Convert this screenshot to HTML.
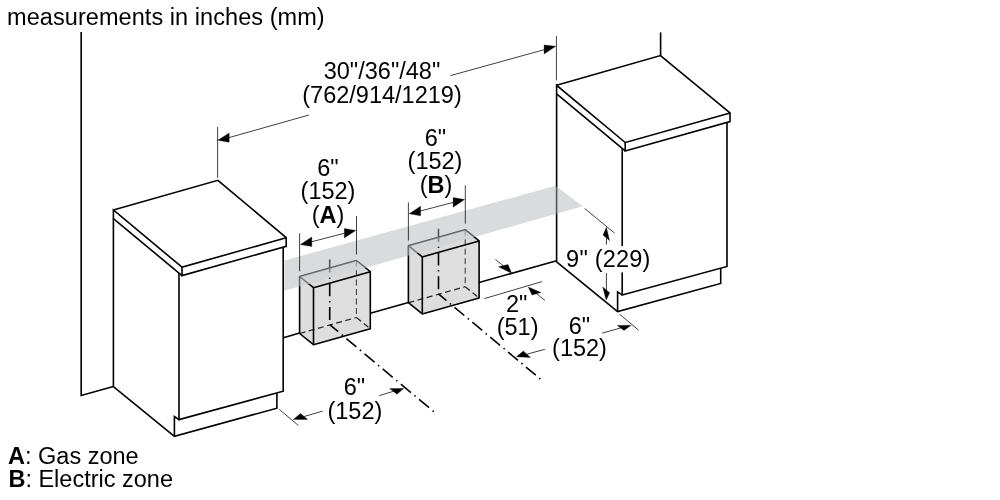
<!DOCTYPE html>
<html><head><meta charset="utf-8"><title>Measurements</title>
<style>
html,body{margin:0;padding:0;background:#fff;}
body{width:1000px;height:500px;overflow:hidden;}
svg{display:block;will-change:transform;}
text{font-family:"Liberation Sans",sans-serif;font-size:23.5px;fill:#000;}
</style></head>
<body>
<svg width="1000" height="500" viewBox="0 0 1000 500">
<rect width="1000" height="500" fill="#fff"/>
<polyline points="81.20,32.00 81.20,395.40 113.40,386.60" fill="none" stroke="#000" stroke-width="1.6" />
<line x1="660.60" y1="32.40" x2="660.60" y2="56.00" stroke="#000" stroke-width="1.6" />
<polygon points="113.40,210.00 217.90,180.30 286.20,237.70 182.00,267.20" fill="#fff" />
<polyline points="113.40,210.00 217.90,180.30 286.20,237.70 286.20,246.30 182.00,275.60 182.00,267.20 286.20,237.70" fill="none" stroke="#000" stroke-width="1.6" />
<polyline points="182.00,267.20 113.40,210.00 113.40,218.60 182.00,275.60" fill="none" stroke="#000" stroke-width="1.6" />
<polyline points="113.40,218.60 113.40,386.60 174.40,436.30 276.90,408.20 276.90,393.00" fill="none" stroke="#000" stroke-width="1.6" />
<polyline points="179.00,273.00 179.00,419.60 283.20,391.20 283.20,247.30" fill="none" stroke="#000" stroke-width="1.6" />
<polyline points="174.40,436.30 174.40,416.60 179.00,419.60" fill="none" stroke="#000" stroke-width="1.6" />
<polygon points="556.60,85.30 660.50,55.60 730.00,113.00 625.20,142.50" fill="#fff" />
<polyline points="556.60,85.30 660.50,55.60 730.00,113.00 730.00,121.60 625.20,150.90 625.20,142.50 730.00,113.00" fill="none" stroke="#000" stroke-width="1.6" />
<polyline points="625.20,142.50 556.60,85.30 556.60,93.90 625.20,150.90" fill="none" stroke="#000" stroke-width="1.6" />
<polyline points="556.60,93.90 556.60,261.90 617.60,311.60 720.70,283.50 720.70,268.30" fill="none" stroke="#000" stroke-width="1.6" />
<polyline points="622.20,148.30 622.20,294.90 727.00,266.50 727.00,122.60" fill="none" stroke="#000" stroke-width="1.6" />
<polyline points="617.60,311.60 617.60,291.90 622.20,294.90" fill="none" stroke="#000" stroke-width="1.6" />
<line x1="283.40" y1="337.67" x2="299.60" y2="333.10" stroke="#000" stroke-width="1.6" />
<line x1="370.30" y1="313.17" x2="408.40" y2="302.43" stroke="#000" stroke-width="1.6" />
<line x1="479.10" y1="282.50" x2="556.60" y2="260.65" stroke="#000" stroke-width="1.6" />
<polygon points="299.60,276.50 313.50,287.70 313.50,344.70 299.60,333.50" fill="#dddddd" />
<polygon points="313.50,287.70 370.30,271.70 370.30,328.70 313.50,344.70" fill="#dedede" />
<polygon points="299.60,276.50 356.40,260.50 370.30,271.70 313.50,287.70" fill="#dbdbdb" />
<line x1="299.60" y1="333.50" x2="356.40" y2="317.50" stroke="#222" stroke-width="1.2" stroke-dasharray="6 3.5"/>
<line x1="356.40" y1="260.50" x2="356.40" y2="317.50" stroke="#333" stroke-width="1.0" stroke-dasharray="6 3.5"/>
<line x1="356.40" y1="317.50" x2="370.30" y2="328.70" stroke="#222" stroke-width="1.2" stroke-dasharray="6 3.5"/>
<polyline points="299.60,276.50 356.40,260.50 370.30,271.70 313.50,287.70 299.60,276.50 299.60,333.50 313.50,344.70 370.30,328.70 370.30,271.70" fill="none" stroke="#000" stroke-width="1.6" stroke-linejoin="round"/>
<line x1="313.50" y1="287.70" x2="313.50" y2="344.70" stroke="#000" stroke-width="1.6" />
<line x1="329.70" y1="259.60" x2="329.70" y2="320.61" stroke="#000" stroke-width="1.6" stroke-dasharray="13 4.6 1.5 4.6"/>
<polygon points="408.40,245.70 422.30,256.90 422.30,313.90 408.40,302.70" fill="#dddddd" />
<polygon points="422.30,256.90 479.10,240.90 479.10,297.90 422.30,313.90" fill="#dedede" />
<polygon points="408.40,245.70 465.20,229.70 479.10,240.90 422.30,256.90" fill="#dbdbdb" />
<line x1="408.40" y1="302.70" x2="465.20" y2="286.70" stroke="#222" stroke-width="1.2" stroke-dasharray="6 3.5"/>
<line x1="465.20" y1="229.70" x2="465.20" y2="286.70" stroke="#333" stroke-width="1.0" stroke-dasharray="6 3.5"/>
<line x1="465.20" y1="286.70" x2="479.10" y2="297.90" stroke="#222" stroke-width="1.2" stroke-dasharray="6 3.5"/>
<polyline points="408.40,245.70 465.20,229.70 479.10,240.90 422.30,256.90 408.40,245.70 408.40,302.70 422.30,313.90 479.10,297.90 479.10,240.90" fill="none" stroke="#000" stroke-width="1.6" stroke-linejoin="round"/>
<line x1="422.30" y1="256.90" x2="422.30" y2="313.90" stroke="#000" stroke-width="1.6" />
<line x1="438.50" y1="228.80" x2="438.50" y2="289.94" stroke="#000" stroke-width="1.6" stroke-dasharray="13 4.6 1.5 4.6"/>
<polygon points="284.30,260.50 555.50,185.80 582.80,206.30 284.30,290.80" fill="rgba(178,180,184,0.48)" />
<clipPath id="bandclip"><polygon points="284.30,260.50 555.50,185.80 582.80,206.30 284.30,290.80"/></clipPath>
<polygon points="299.60,276.50 356.40,260.50 370.30,271.70 313.50,287.70" fill="rgba(255,255,255,0.24)" clip-path="url(#bandclip)"/>
<polygon points="299.60,276.50 313.50,287.70 313.50,344.70 299.60,333.50" fill="rgba(255,255,255,0.24)" clip-path="url(#bandclip)"/>
<polygon points="408.40,245.70 465.20,229.70 479.10,240.90 422.30,256.90" fill="rgba(255,255,255,0.24)" clip-path="url(#bandclip)"/>
<polygon points="408.40,245.70 422.30,256.90 422.30,313.90 408.40,302.70" fill="rgba(255,255,255,0.24)" clip-path="url(#bandclip)"/>
<line x1="329.70" y1="324.61" x2="433.71" y2="411.61" stroke="#000" stroke-width="1.6" stroke-dasharray="13.00 4.60 1.50 4.60" stroke-dashoffset="1.95"/>
<line x1="438.50" y1="293.94" x2="541.04" y2="379.59" stroke="#000" stroke-width="1.6" stroke-dasharray="12.78 4.52 1.47 4.52" stroke-dashoffset="2.44"/>
<line x1="217.60" y1="127.00" x2="217.60" y2="177.60" stroke="#000" stroke-width="0.75" />
<line x1="556.40" y1="35.90" x2="556.40" y2="80.40" stroke="#000" stroke-width="0.75" />
<polygon points="217.80,140.20 229.20,133.00 229.20,142.30" fill="#000" stroke="#000" stroke-width="0.3" stroke-linejoin="round"/>
<line x1="229.00" y1="137.60" x2="309.00" y2="115.00" stroke="#000" stroke-width="0.75" />
<polygon points="555.80,46.30 544.10,44.90 544.10,54.00" fill="#000" stroke="#000" stroke-width="0.3" stroke-linejoin="round"/>
<line x1="450.50" y1="75.60" x2="544.50" y2="49.60" stroke="#000" stroke-width="0.75" />
<line x1="299.60" y1="233.20" x2="299.60" y2="271.30" stroke="#000" stroke-width="0.75" />
<line x1="356.50" y1="216.00" x2="356.50" y2="254.50" stroke="#000" stroke-width="0.75" />
<polygon points="300.40,244.60 311.80,237.00 311.80,246.60" fill="#000" stroke="#000" stroke-width="0.3" stroke-linejoin="round"/>
<polygon points="355.80,230.40 344.30,228.40 344.30,238.00" fill="#000" stroke="#000" stroke-width="0.3" stroke-linejoin="round"/>
<line x1="311.50" y1="241.80" x2="344.60" y2="233.20" stroke="#000" stroke-width="0.75" />
<line x1="408.40" y1="202.40" x2="408.40" y2="240.50" stroke="#000" stroke-width="0.75" />
<line x1="465.30" y1="185.20" x2="465.30" y2="223.70" stroke="#000" stroke-width="0.75" />
<polygon points="409.20,213.80 420.60,206.20 420.60,215.80" fill="#000" stroke="#000" stroke-width="0.3" stroke-linejoin="round"/>
<polygon points="464.60,199.60 453.10,197.60 453.10,207.20" fill="#000" stroke="#000" stroke-width="0.3" stroke-linejoin="round"/>
<line x1="420.30" y1="211.00" x2="453.40" y2="202.40" stroke="#000" stroke-width="0.75" />
<line x1="584.60" y1="208.40" x2="614.60" y2="233.20" stroke="#000" stroke-width="0.75" />
<polygon points="606.40,227.20 603.00,235.00 609.60,240.70" fill="#000" stroke="#000" stroke-width="0.3" stroke-linejoin="round"/>
<line x1="606.40" y1="237.50" x2="606.40" y2="244.60" stroke="#000" stroke-width="0.75" />
<line x1="606.40" y1="273.00" x2="606.40" y2="290.00" stroke="#000" stroke-width="0.75" />
<polygon points="606.20,300.20 602.70,286.90 609.70,292.80" fill="#000" stroke="#000" stroke-width="0.3" stroke-linejoin="round"/>
<line x1="484.40" y1="298.60" x2="542.00" y2="281.60" stroke="#000" stroke-width="0.75" />
<line x1="495.50" y1="259.50" x2="503.50" y2="266.00" stroke="#000" stroke-width="0.75" />
<polygon points="511.60,273.20 498.50,266.80 508.00,264.50" fill="#000" stroke="#000" stroke-width="0.3" stroke-linejoin="round"/>
<line x1="545.00" y1="300.50" x2="536.50" y2="293.60" stroke="#000" stroke-width="0.75" />
<polygon points="528.30,287.00 532.00,295.00 541.00,292.50" fill="#000" stroke="#000" stroke-width="0.3" stroke-linejoin="round"/>
<line x1="619.60" y1="314.20" x2="638.60" y2="330.20" stroke="#000" stroke-width="0.75" />
<polygon points="631.20,325.20 617.20,325.40 624.00,330.40" fill="#000" stroke="#000" stroke-width="0.3" stroke-linejoin="round"/>
<line x1="602.00" y1="333.20" x2="620.80" y2="327.90" stroke="#000" stroke-width="0.75" />
<polygon points="516.40,356.80 523.30,351.10 530.50,357.40" fill="#000" stroke="#000" stroke-width="0.3" stroke-linejoin="round"/>
<line x1="526.90" y1="354.20" x2="544.90" y2="349.30" stroke="#000" stroke-width="0.75" />
<line x1="279.20" y1="409.30" x2="298.40" y2="425.50" stroke="#000" stroke-width="0.75" />
<polygon points="293.30,419.50 300.50,413.50 307.70,419.50" fill="#000" stroke="#000" stroke-width="0.3" stroke-linejoin="round"/>
<line x1="304.10" y1="416.50" x2="322.70" y2="411.10" stroke="#000" stroke-width="0.75" />
<polygon points="403.80,388.50 389.70,388.50 396.90,394.20" fill="#000" stroke="#000" stroke-width="0.3" stroke-linejoin="round"/>
<line x1="393.30" y1="391.30" x2="379.20" y2="395.70" stroke="#000" stroke-width="0.75" />
<line x1="622.20" y1="246.00" x2="622.20" y2="272.40" stroke="#fff" stroke-width="3.2" />
<text x="7.10" y="25.00" text-anchor="start" letter-spacing="0.06">measurements in inches (mm)</text>
<text x="382.00" y="78.90" text-anchor="middle" >30&quot;/36&quot;/48&quot;</text>
<text x="382.00" y="102.70" text-anchor="middle" >(762/914/1219)</text>
<text x="327.90" y="176.10" text-anchor="middle" >6&quot;</text>
<text x="328.00" y="199.30" text-anchor="middle" >(152)</text>
<text x="328.10" y="223.30" text-anchor="middle" >(<tspan font-weight="bold">A</tspan>)</text>
<text x="435.50" y="146.10" text-anchor="middle" >6&quot;</text>
<text x="435.00" y="169.30" text-anchor="middle" >(152)</text>
<text x="436.10" y="193.30" text-anchor="middle" >(<tspan font-weight="bold">B</tspan>)</text>
<text x="608.40" y="266.90" text-anchor="middle" letter-spacing="0.22">9&quot; (229)</text>
<text x="516.70" y="312.00" text-anchor="middle" >2&quot;</text>
<text x="517.60" y="335.40" text-anchor="middle" >(51)</text>
<text x="579.40" y="333.60" text-anchor="middle" >6&quot;</text>
<text x="579.50" y="356.10" text-anchor="middle" >(152)</text>
<text x="354.50" y="394.80" text-anchor="middle" >6&quot;</text>
<text x="354.90" y="418.80" text-anchor="middle" >(152)</text>
<text x="8.00" y="463.50" text-anchor="start" ><tspan font-weight="bold">A</tspan>: Gas zone</text>
<text x="8.40" y="486.90" text-anchor="start" ><tspan font-weight="bold">B</tspan>: Electric zone</text>
</svg>
</body></html>
